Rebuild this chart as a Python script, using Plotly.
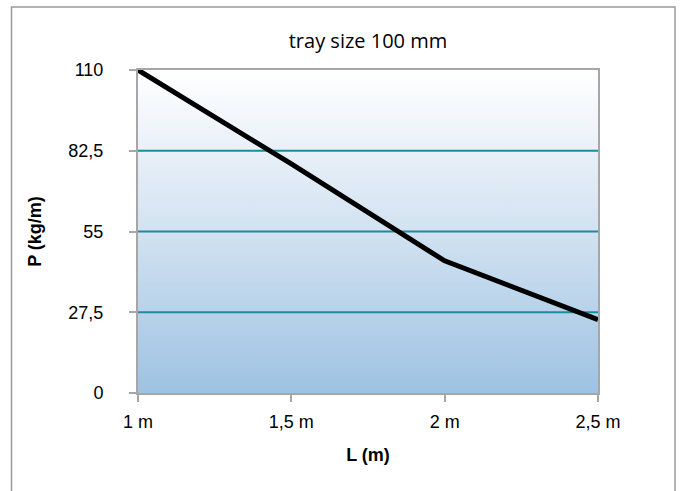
import plotly.graph_objects as go

# Data
lengths = [1.0, 1.5, 2.0, 2.5]
length_labels = ["1 m", "1,5 m", "2 m", "2,5 m"]
loads = [110, 78, 45, 25]
y_ticks = [0, 27.5, 55, 82.5, 110]
y_tick_labels = ["0", "27,5", "55", "82,5", "110"]
grid_values = [27.5, 55, 82.5]

x_min, x_max = lengths[0], lengths[-1]
y_min, y_max = y_ticks[0], y_ticks[-1]

fig = go.Figure()

# gradient background of the plot area
fig.add_trace(go.Scatter(
    x=[x_min, x_max, x_max, x_min, x_min],
    y=[y_min, y_min, y_max, y_max, y_min],
    mode="none", fill="toself",
    fillgradient=dict(type="vertical",
                      colorscale=[[0, "#9EC2E2"], [0.5, "#D2E2F1"], [1, "#FFFFFF"]]),
    hoverinfo="skip", showlegend=False,
))

# horizontal gridlines
for g in grid_values:
    fig.add_trace(go.Scatter(
        x=[x_min, x_max], y=[g, g], mode="lines",
        line=dict(color="#1A8E9E", width=2),
        hoverinfo="skip", showlegend=False,
    ))

# data line
fig.add_trace(go.Scatter(
    x=lengths, y=loads, mode="lines",
    line=dict(color="#000000", width=5),
    showlegend=False, cliponaxis=False,
))

L, R, T, B = 138, 84, 70, 98
W, H = 682, 491
pw, ph = W - L - R, H - T - B

fig.update_layout(
    width=W, height=H,
    margin=dict(l=L, r=R, t=T, b=B),
    paper_bgcolor="white", plot_bgcolor="white",
    title=dict(text="tray size 100 mm", x=0.5, xanchor="center",
               xref="paper", y=1 - 41 / H, yanchor="middle", yref="container",
               font=dict(family="Open Sans, sans-serif", size=20, color="#000")),
    font=dict(family="Liberation Sans, Arial, sans-serif", size=18, color="#000"),
)

fig.update_xaxes(
    range=[x_min, x_max], tickvals=lengths, ticktext=length_labels,
    showgrid=False, zeroline=False,
    showline=True, linecolor="#A6A6A6", linewidth=2, mirror=True,
    ticks="outside", ticklen=7, tickwidth=2, tickcolor="#A6A6A6",
    tickfont=dict(size=18), ticklabelstandoff=4,
    title=dict(text="<b>L (m)</b>", font=dict(size=18), standoff=18),
)
fig.update_yaxes(
    range=[y_min, y_max], tickvals=y_ticks, ticktext=y_tick_labels,
    showgrid=False, zeroline=False,
    showline=True, linecolor="#A6A6A6", linewidth=2, mirror=True,
    ticks="outside", ticklen=7, tickwidth=2, tickcolor="#A6A6A6",
    tickfont=dict(size=18), ticklabelstandoff=22,
    title=dict(text="<b>P (kg/m)</b>", font=dict(size=18), standoff=22),
)

# outer chart border
fig.add_shape(type="rect", xref="paper", yref="paper",
              x0=(11.5 - L) / pw, x1=(675 - L) / pw,
              y0=-(H + 10 - T - ph) / ph, y1=1 + (T - 7) / ph,
              line=dict(color="#9A9A9A", width=1.5), fillcolor="rgba(0,0,0,0)", layer="below")

fig.write_html("out.html", config={"displayModeBar": False},
               post_script="document.body.style.margin='0';")
